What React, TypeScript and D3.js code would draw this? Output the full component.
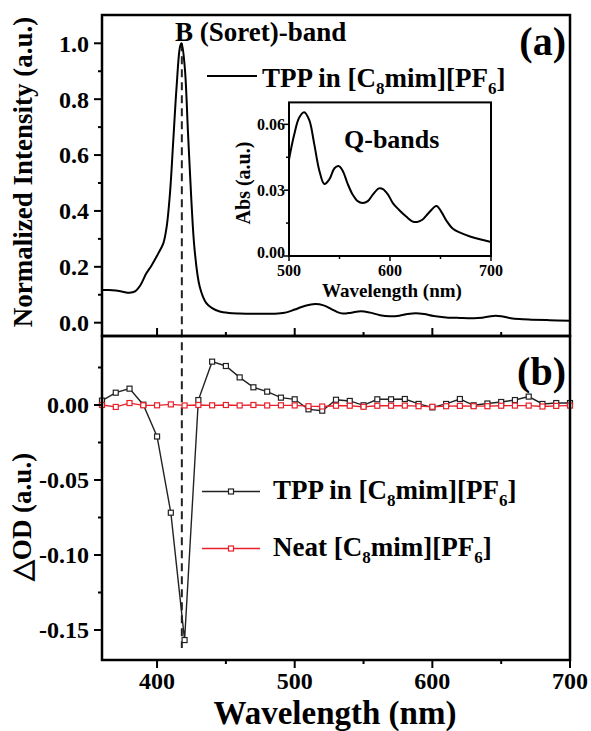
import React from 'react';
import * as d3 from 'd3';

// ---------- data ----------
const topWl = [360, 365, 370, 375, 380, 384, 388, 392, 396, 401, 404.6, 407, 409.4, 411.8, 414.2, 416.7, 417.8, 420.1, 422.5, 424.9, 427.3, 431, 435.8, 440, 445.5, 452, 460, 470, 480, 488, 494, 500, 505, 510, 515, 521, 527, 531, 535, 541, 548, 555, 562, 569, 576, 582, 588, 594, 601, 610, 620, 630, 636, 641, 646, 651, 657, 663, 672, 685, 700];
const topInt = [0.117, 0.117, 0.115, 0.111, 0.107, 0.112, 0.135, 0.175, 0.205, 0.249, 0.285, 0.344, 0.464, 0.654, 0.845, 0.988, 1.0, 0.916, 0.678, 0.44, 0.26, 0.129, 0.07, 0.052, 0.04, 0.035, 0.033, 0.032, 0.032, 0.033, 0.037, 0.047, 0.056, 0.063, 0.067, 0.062, 0.048, 0.038, 0.033, 0.036, 0.041, 0.036, 0.027, 0.023, 0.025, 0.031, 0.034, 0.031, 0.024, 0.019, 0.017, 0.016, 0.018, 0.022, 0.025, 0.022, 0.016, 0.013, 0.011, 0.009, 0.007];

const insetWl = [500, 505, 510, 515, 520, 525, 530, 535, 540, 545, 549, 553, 558, 563, 568, 573, 578, 583, 589, 593, 598, 603, 609, 616, 622, 627, 632, 638, 646, 651, 656, 662, 670, 680, 690, 700];
const insetAbs = [0.044, 0.055, 0.063, 0.0655, 0.062, 0.051, 0.039, 0.0328, 0.035, 0.040, 0.041, 0.039, 0.033, 0.028, 0.025, 0.0242, 0.025, 0.028, 0.0308, 0.0305, 0.028, 0.024, 0.021, 0.018, 0.0158, 0.0155, 0.0165, 0.0195, 0.0228, 0.020, 0.016, 0.0125, 0.0105, 0.0088, 0.0075, 0.0064];

const dodWl = [360, 370, 380, 390, 400, 410, 420, 430, 440, 450, 460, 470, 480, 490, 500, 510, 520, 530, 540, 550, 560, 570, 580, 590, 600, 610, 620, 630, 640, 650, 660, 670, 680, 690, 700];
const tppDod = [0.0029, 0.0082, 0.0109, 0.0002, -0.021, -0.0718, -0.1567, 0.0033, 0.0289, 0.026, 0.0184, 0.0118, 0.0089, 0.0049, 0.0038, -0.0029, -0.0038, 0.0035, 0.0027, -0.0002, 0.0038, 0.0038, 0.004, 0.0007, -0.0016, 0.0007, 0.004, -0.0002, 0.001, 0.002, 0.0033, 0.0056, 0.0007, 0.0013, 0.0013];
const neatDod = [0.0, -0.0013, 0.0013, -0.0002, -0.0002, 0.0004, -0.0003, 0.0, -0.0002, 0.0, -0.0003, 0.0, -0.0003, -0.0002, -0.0003, -0.0008, -0.001, -0.0005, -0.0005, -0.0012, -0.0005, -0.0005, -0.0004, -0.0008, -0.0012, -0.0008, -0.0006, -0.0008, -0.0008, -0.0005, -0.0004, -0.0004, -0.001, -0.0006, -0.0004];

const xMajor = [400, 500, 600, 700];
const xMinor = [450, 550, 650];
const topYMajor = [0, 0.2, 0.4, 0.6, 0.8, 1.0];
const topYMinor = [0.1, 0.3, 0.5, 0.7, 0.9];
const botYMajor = [0, -0.05, -0.1, -0.15];
const botYMinor = [0.025, -0.025, -0.075, -0.125];
const insetXMajor = [500, 600, 700];
const insetXMinor = [550, 650];
const insetYMajor = [0, 0.03, 0.06];
const insetYMinor = [0.015, 0.045];
const soretPeak = 418;

const FONT = "'Liberation Serif', 'Times New Roman', serif";

export default function App() {
  const W = 591, H = 731;
  const L = 102, R = 570, T = 15, MID = 336, B = 660;

  const x = d3.scaleLinear().domain([360, 700]).range([L, R]);
  const yTop = d3.scaleLinear().domain([0, 1]).range([322.7, 43.3]);
  const yBot = d3.scaleLinear().domain([0, -0.15]).range([405, 630]);

  const iL = 289, iR = 491, iT = 102.4, iB = 256;
  const ix = d3.scaleLinear().domain([500, 700]).range([iL, iR]);
  const iy = d3.scaleLinear().domain([0, 0.07]).range([iB, iT]);

  const topLine = d3.line<number>()
    .x((_, i) => x(topWl[i]))
    .y((d) => yTop(d))
    .curve(d3.curveCatmullRom.alpha(0.5));
  const insetLine = d3.line<number>()
    .x((_, i) => ix(insetWl[i]))
    .y((d) => iy(d))
    .curve(d3.curveCatmullRom.alpha(0.5));
  const dodLine = d3.line<number>()
    .x((_, i) => x(dodWl[i]))
    .y((d) => yBot(d));

  const ms = 5;
  const sub = (t: string) => (
    <tspan fontSize="17" dy="7">{t}</tspan>
  );

  return (
    <svg width={W} height={H} style={{ position: 'absolute', left: 0, top: 0, background: '#fff' }}
      fontFamily={FONT} fontWeight="bold">
      <rect x={0} y={0} width={W} height={H} fill="#fff" />

      {/* dashed Soret marker */}
      <line x1={x(soretPeak)} x2={x(soretPeak)} y1={yTop(1.0)} y2={yBot(-0.162)}
        stroke="#222" strokeWidth={2} strokeDasharray="8,5" />

      {/* top curve */}
      <path d={topLine(topInt) || ''} fill="none" stroke="#000" strokeWidth={2} />

      {/* bottom series */}
      <path d={dodLine(tppDod) || ''} fill="none" stroke="#222" strokeWidth={1.4} />
      {tppDod.map((v, i) => (
        <rect key={'t' + i} x={x(dodWl[i]) - ms / 2} y={yBot(v) - ms / 2} width={ms} height={ms}
          fill="#fff" stroke="#222" strokeWidth={1.2} />
      ))}
      <path d={dodLine(neatDod) || ''} fill="none" stroke="#e8202a" strokeWidth={1.3} />
      {neatDod.map((v, i) => (
        <rect key={'n' + i} x={x(dodWl[i]) - ms / 2} y={yBot(v) - ms / 2} width={ms} height={ms}
          fill="#fff" stroke="#e8202a" strokeWidth={1.2} />
      ))}

      {/* frames */}
      <rect x={L} y={T} width={R - L} height={MID - T} fill="none" stroke="#000" strokeWidth={2.5} />
      <rect x={L} y={MID} width={R - L} height={B - MID} fill="none" stroke="#000" strokeWidth={2.5} />

      {/* top panel y ticks */}
      {topYMajor.map((v) => (
        <g key={'ty' + v}>
          <line x1={L - 8} x2={L} y1={yTop(v)} y2={yTop(v)} stroke="#000" strokeWidth={2} />
          <text x={L - 13} y={yTop(v)} dy="0.35em" textAnchor="end" fontSize={24}>{v.toFixed(1)}</text>
        </g>
      ))}
      {topYMinor.map((v) => (
        <line key={'tym' + v} x1={L - 4} x2={L} y1={yTop(v)} y2={yTop(v)} stroke="#000" strokeWidth={2} />
      ))}
      {/* top panel x ticks (inward) */}
      {xMajor.map((v) => (
        <line key={'tx' + v} x1={x(v)} x2={x(v)} y1={MID} y2={MID - 8} stroke="#000" strokeWidth={2} />
      ))}
      {xMinor.map((v) => (
        <line key={'txm' + v} x1={x(v)} x2={x(v)} y1={MID} y2={MID - 4} stroke="#000" strokeWidth={2} />
      ))}

      {/* bottom panel y ticks */}
      {botYMajor.map((v) => (
        <g key={'by' + v}>
          <line x1={L - 8} x2={L} y1={yBot(v)} y2={yBot(v)} stroke="#000" strokeWidth={2} />
          <text x={L - 13} y={yBot(v)} dy="0.35em" textAnchor="end" fontSize={24}>{v === 0 ? '0.00' : '-' + Math.abs(v).toFixed(2)}</text>
        </g>
      ))}
      {botYMinor.map((v) => (
        <line key={'bym' + v} x1={L - 4} x2={L} y1={yBot(v)} y2={yBot(v)} stroke="#000" strokeWidth={2} />
      ))}
      {/* bottom x ticks (outward) */}
      {xMajor.map((v) => (
        <g key={'bx' + v}>
          <line x1={x(v)} x2={x(v)} y1={B} y2={B + 8} stroke="#000" strokeWidth={2} />
          <text x={x(v)} y={689} textAnchor="middle" fontSize={24}>{v}</text>
        </g>
      ))}
      {xMinor.map((v) => (
        <line key={'bxm' + v} x1={x(v)} x2={x(v)} y1={B} y2={B + 4} stroke="#000" strokeWidth={2} />
      ))}

      {/* axis labels */}
      <text x={335} y={724} textAnchor="middle" fontSize={33}>Wavelength (nm)</text>
      <text transform={`translate(32,172) rotate(-90)`} textAnchor="middle" fontSize={27}>Normalized Intensity (a.u.)</text>
      <text transform={`translate(31,517) rotate(-90)`} textAnchor="middle" fontSize={27}>△OD (a.u.)</text>

      {/* annotations top */}
      <text x={175} y={41} fontSize={27}>B (Soret)-band</text>
      <line x1={207} x2={257} y1={76} y2={76} stroke="#000" strokeWidth={2} />
      <text x={262} y={87} fontSize={27}>
        <tspan>TPP in [C</tspan>{sub('8')}<tspan dy="-7">mim][PF</tspan>{sub('6')}<tspan dy="-7">]</tspan>
      </text>
      <text x={566} y={55} textAnchor="end" fontSize={40}>(a)</text>
      <text x={566} y={385} textAnchor="end" fontSize={40}>(b)</text>

      {/* bottom legend */}
      <line x1={202} x2={260} y1={491.5} y2={491.5} stroke="#222" strokeWidth={1.4} />
      <rect x={231 - ms / 2} y={491.5 - ms / 2} width={ms} height={ms} fill="#fff" stroke="#222" strokeWidth={1.2} />
      <text x={273} y={499} fontSize={27}>
        <tspan>TPP in [C</tspan>{sub('8')}<tspan dy="-7">mim][PF</tspan>{sub('6')}<tspan dy="-7">]</tspan>
      </text>
      <line x1={202} x2={260} y1={548.5} y2={548.5} stroke="#e8202a" strokeWidth={1.4} />
      <rect x={231 - ms / 2} y={548.5 - ms / 2} width={ms} height={ms} fill="#fff" stroke="#e8202a" strokeWidth={1.2} />
      <text x={273} y={556} fontSize={27}>
        <tspan>Neat [C</tspan>{sub('8')}<tspan dy="-7">mim][PF</tspan>{sub('6')}<tspan dy="-7">]</tspan>
      </text>

      {/* inset */}
      <path d={insetLine(insetAbs) || ''} fill="none" stroke="#000" strokeWidth={2} />
      <rect x={iL} y={iT} width={iR - iL} height={iB - iT} fill="none" stroke="#000" strokeWidth={2} />
      {insetYMajor.map((v) => (
        <g key={'iy' + v}>
          <line x1={iL - 5} x2={iL} y1={iy(v)} y2={iy(v)} stroke="#000" strokeWidth={1.5} />
          <text x={iL - 4} y={v === 0 ? iy(v) + 2 : iy(v) + 5.6} textAnchor="end" fontSize={16}>{v.toFixed(2)}</text>
        </g>
      ))}
      {insetYMinor.map((v) => (
        <line key={'iym' + v} x1={iL - 3} x2={iL} y1={iy(v)} y2={iy(v)} stroke="#000" strokeWidth={1.5} />
      ))}
      {insetXMajor.map((v) => (
        <g key={'ix' + v}>
          <line x1={ix(v)} x2={ix(v)} y1={iB} y2={iB + 5} stroke="#000" strokeWidth={1.5} />
          <text x={ix(v)} y={276} textAnchor="middle" fontSize={16}>{v}</text>
        </g>
      ))}
      {insetXMinor.map((v) => (
        <line key={'ixm' + v} x1={ix(v)} x2={ix(v)} y1={iB} y2={iB + 3} stroke="#000" strokeWidth={1.5} />
      ))}
      <text x={392} y={297} textAnchor="middle" fontSize={19}>Wavelength (nm)</text>
      <text transform={`translate(250,183) rotate(-90)`} textAnchor="middle" fontSize={20}>Abs (a.u.)</text>
      <text x={344} y={148} fontSize={26}>Q-bands</text>
    </svg>
  );
}
